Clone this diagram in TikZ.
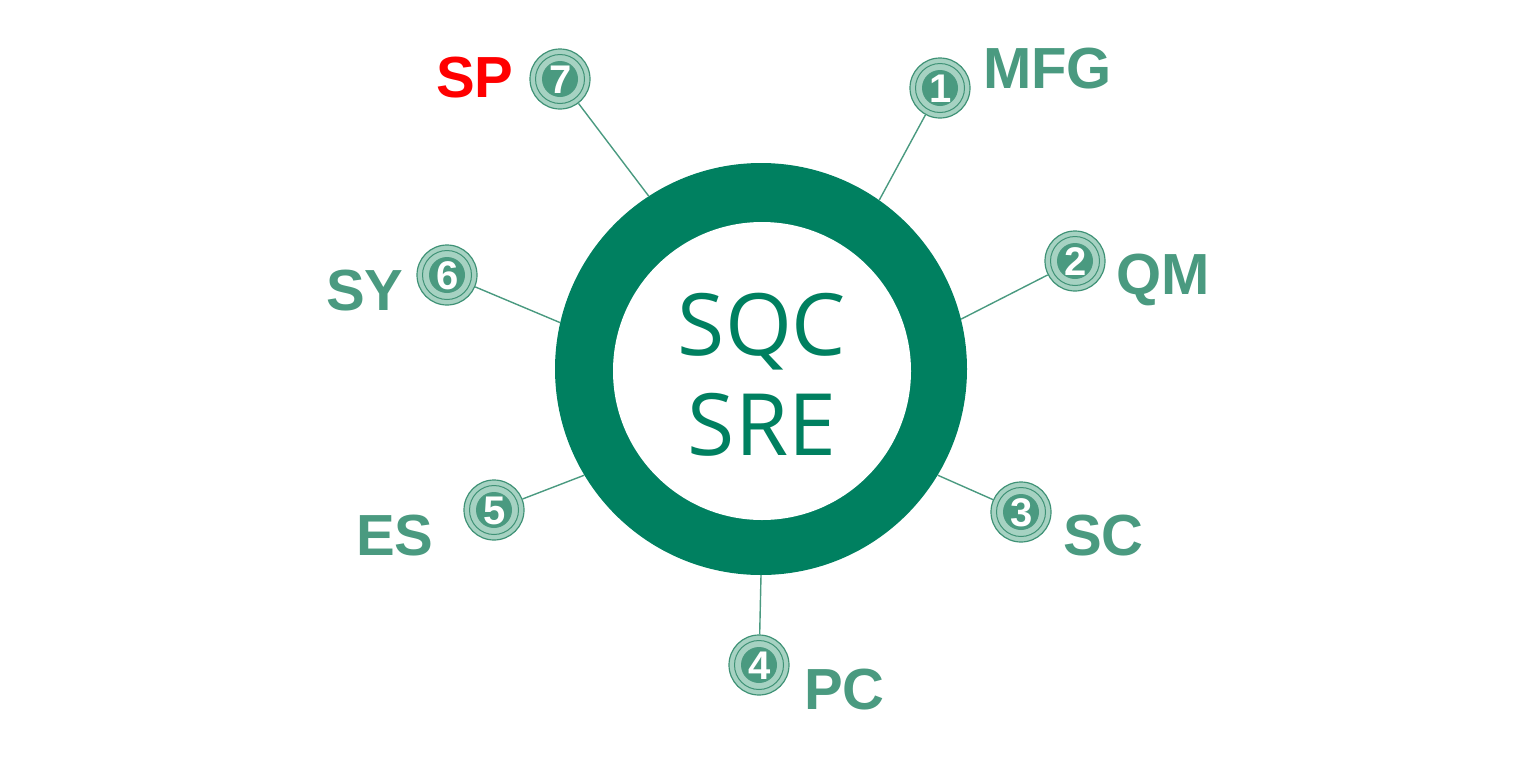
\documentclass[tikz,border=0pt]{standalone}
\usepackage{fontspec}
\setmainfont{Liberation Sans}
\newfontfamily\hubfont{Open Sans}
\definecolor{ringgreen}{HTML}{008060}
\definecolor{tealtext}{HTML}{4A9A80}
\definecolor{badgelight}{HTML}{A6D2C2}
\definecolor{badgeline}{HTML}{3F9276}
\begin{document}
\begin{tikzpicture}[x=1pt,y=-1pt,
  badge/.style={circle,minimum size=60pt,inner sep=0pt,draw=badgeline,line width=1.2pt,fill=badgelight},
  num/.style={text=white,font=\fontsize{40}{40}\selectfont\bfseries,inner sep=0pt},
  lbl/.style={text=tealtext,font=\fontsize{58}{58}\selectfont\bfseries,anchor=base west,inner sep=0pt},
  link/.style={draw=tealtext,line width=1.4pt}]
\useasboundingbox (0,0) rectangle (1516,758);

% central hub
\node[circle,minimum size=412pt,inner sep=0pt,fill=ringgreen] (ring) at (761,369) {};
\node[circle,minimum size=298pt,inner sep=0pt,fill=white] (hole) at (762,371) {};
\node[anchor=base,text=ringgreen,font=\hubfont\fontsize{86}{86}\selectfont,inner sep=0pt] (t1) at (762,355) {SQC};
\node[anchor=base,text=ringgreen,font=\hubfont\fontsize{86}{86}\selectfont,inner sep=0pt] (t2) at (762,455) {SRE};

% numbered badges
\foreach \n/\x/\y in {1/940/88, 2/1075/261, 3/1021/512, 4/759/665, 5/494/510, 6/447/275, 7/560/79}{
  \node[badge] (b\n) at (\x,\y) {};
  \draw[badgeline,line width=1pt,fill=badgelight] (b\n.center) circle (24.5pt);
  \fill[tealtext] (b\n.center) circle (18pt);
  \node[num] (n\n) at (\x+1,\y+1) {\n};
}

% connectors
\draw[link] (ring.55.8) -- (b1);
\draw[link] (ring.14.2) -- (b2);
\draw[link] (ring.-31.7) -- (b3);
\draw[link] (ring.-90.6) -- (b4);
\draw[link] (ring.211.3) -- (b5);
\draw[link] (ring.167) -- (b6);
\draw[link] (ring.123.6) -- (b7);

% labels
\node[lbl] (l1) at (983,88) {MFG};
\node[lbl] (l2) at (1116,294) {QM};
\node[lbl] (l3) at (1063,555) {SC};
\node[lbl] (l4) at (804,709) {PC};
\node[lbl] (l5) at (356,555) {ES};
\node[lbl] (l6) at (326,310) {SY};
\node[lbl,text=red] (l7) at (436,97) {SP};
\end{tikzpicture}
\end{document}
